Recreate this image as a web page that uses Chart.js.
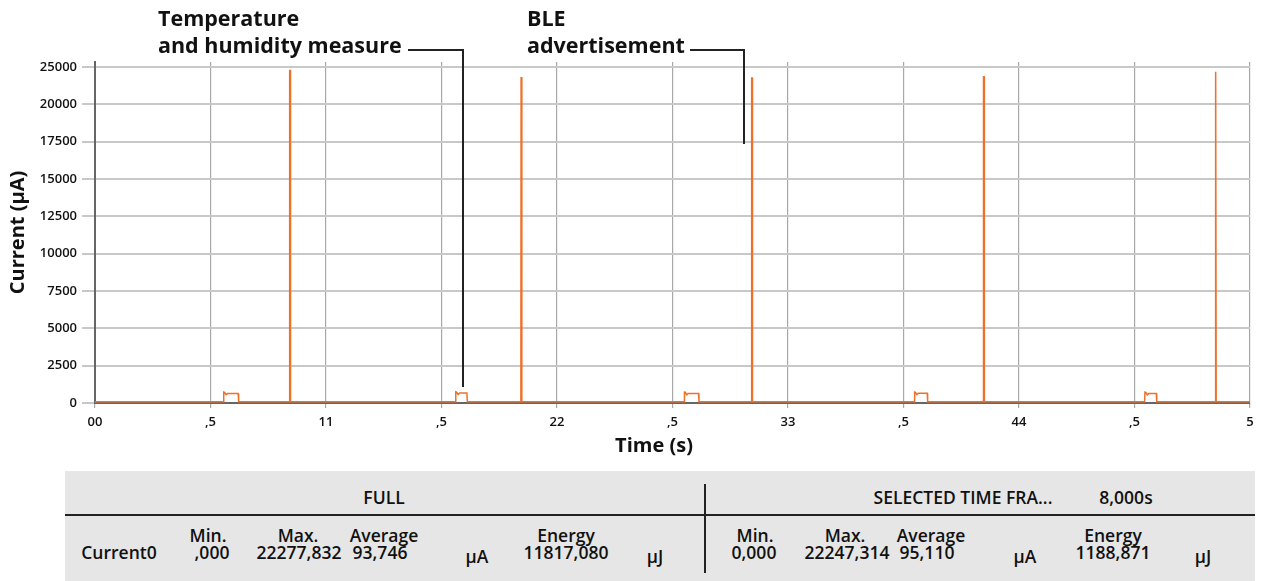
<!DOCTYPE html>
<html>
<head>
<meta charset="utf-8">
<script src="https://cdn.jsdelivr.net/npm/chart.js@4.4.1/dist/chart.umd.min.js"></script>
<style>
  body { margin: 0; background: #fff; font-family: "Open Sans", sans-serif; }
  #wrap { position: absolute; left: 0; top: 0; width: 1262px; height: 465px; }
  .t { position: absolute; white-space: nowrap; transform: translate(-50%, -50%); font-weight: 600; color: #111; }
  .note { position: absolute; white-space: nowrap; font-size: 21.5px; font-weight: 700; color: #111; line-height: 27px; }
  .ln { position: absolute; background: #222; }
  #table { position: absolute; left: 65px; top: 471px; width: 1190px; height: 110px; background: #e6e6e6; }
  .cell { font-size: 17.5px; }
</style>
</head>
<body>
<div id="wrap"><canvas id="myChart"></canvas></div>

<div class="note" style="left:158px; top:4px;">Temperature<br>and humidity measure</div>
<div class="ln" style="left:408px; top:49px; width:56px; height:1.5px;"></div>
<div class="ln" style="left:462px; top:49px; width:1.5px; height:338px;"></div>
<div class="note" style="left:527px; top:4px;">BLE<br>advertisement</div>
<div class="ln" style="left:690px; top:49px; width:55px; height:1.5px;"></div>
<div class="ln" style="left:743px; top:49px; width:1.5px; height:95px;"></div>

<div id="table"></div>
<div class="ln" style="left:65px; top:514px; width:1190px; height:2px;"></div>
<div class="ln" style="left:704px; top:484px; width:2px; height:89px;"></div>
<div id="cells"></div>

<script>
// trace: time (s) and current (uA)
var times = [
  0,
  6.11, 6.13, 6.17, 6.24, 6.31, 6.82, 6.84,
  9.26, 9.27, 9.30, 9.31,
  17.16, 17.18, 17.22, 17.29, 17.36, 17.71, 17.73,
  20.28, 20.29, 20.32, 20.33,
  28.05, 28.07, 28.11, 28.18, 28.25, 28.74, 28.76,
  31.26, 31.27, 31.30, 31.31,
  39.01, 39.03, 39.07, 39.14, 39.21, 39.63, 39.65,
  42.30, 42.31, 42.34, 42.35,
  49.98, 50.00, 50.04, 50.11, 50.18, 50.54, 50.56,
  53.34, 53.35, 53.38, 53.39,
  55
];
var current = [
  88,
  88, 740, 720, 560, 630, 630, 88,
  88, 22270, 22270, 88,
  88, 750, 730, 570, 670, 670, 88,
  88, 21830, 21830, 88,
  88, 730, 720, 550, 640, 640, 88,
  88, 21770, 21770, 88,
  88, 740, 720, 560, 650, 650, 88,
  88, 21850, 21850, 88,
  88, 730, 710, 550, 630, 630, 88,
  88, 22180, 22180, 88,
  88
];
var xTickValues = [0, 5.5, 11, 16.5, 22, 27.5, 33, 38.5, 44, 49.5, 55];
var xTickLabels = ['00', ',5', '11', ',5', '22', ',5', '33', ',5', '44', ',5', '5'];
var yTickValues = [0, 2500, 5000, 7500, 10000, 12500, 15000, 17500, 20000, 22500];
var yTickLabels = ['0', '2500', '5000', '7500', '10000', '12500', '15000', '17500', '20000', '25000'];

var points = times.map(function (t, i) { return { x: t, y: current[i] }; });

var tickFont = { family: 'Open Sans', size: 13, weight: '600' };

var xTitle = {
  id: 'xTitle',
  afterDraw: function (chart) {
    var c = chart.ctx;
    c.save();
    c.font = '700 20px "Open Sans"';
    c.fillStyle = '#111';
    c.textAlign = 'center';
    c.textBaseline = 'middle';
    c.fillText('Time (s)', 654, 446);
    c.restore();
  }
};

var ctx = document.getElementById('myChart');
var myChart = new Chart(ctx, {
  type: 'line',
  data: {
    datasets: [{
      label: 'Current0',
      data: points,
      borderColor: 'rgb(240, 112, 40)',
      borderWidth: 1.5,
      pointRadius: 0,
      tension: 0,
      fill: false
    }]
  },
  options: {
    responsive: true,
    maintainAspectRatio: false,
    animation: false,
    layout: { padding: { top: 62, right: 12, left: 0, bottom: 0 } },
    plugins: { legend: { display: false }, tooltip: { enabled: false } },
    scales: {
      x: {
        type: 'linear',
        min: 0,
        max: 55,
        afterBuildTicks: function (s) { s.ticks = xTickValues.map(function (v) { return { value: v }; }); },
        ticks: {
          autoSkip: false,
          maxRotation: 0,
          color: '#111',
          font: tickFont,
          padding: 6,
          callback: function (v, i) { return xTickLabels[i]; }
        },
        grid: { color: '#a8a8a8', lineWidth: 1.2, tickLength: 5 },
        border: { color: '#666', width: 2 },
        afterFit: function (s) { s.height = 62; s.paddingLeft = 0; s.paddingRight = 0; }
      },
      y: {
        min: 0,
        max: 22840,
        afterBuildTicks: function (s) { s.ticks = yTickValues.map(function (v) { return { value: v }; }); },
        ticks: {
          autoSkip: false,
          color: '#111',
          font: tickFont,
          padding: 5,
          callback: function (v, i) { return yTickLabels[i]; }
        },
        grid: { color: '#c8c8c8', lineWidth: 2, tickLength: 13 },
        border: { color: '#666', width: 2 },
        title: {
          display: true,
          text: 'Current (µA)',
          color: '#111',
          font: { family: 'Open Sans', size: 20, weight: '700' },
          padding: { top: 6, bottom: 0 }
        },
        afterFit: function (s) { s.width = 95; s.paddingTop = 0; s.paddingBottom = 0; }
      }
    }
  },
  plugins: [xTitle]
});

// statistics table under the chart
var cells = [
  ['FULL', 384, 497], ['SELECTED TIME FRA...', 963, 497], ['8,000s', 1126, 497],
  ['Current0', 119, 552],
  ['Min.', 208, 535], [',000', 212, 552],
  ['Max.', 298, 535], ['22277,832', 299, 552],
  ['Average', 384, 535], ['93,746', 380, 552],
  ['µA', 477, 556],
  ['Energy', 566, 535], ['11817,080', 566, 552],
  ['µJ', 655, 556],
  ['Min.', 755, 535], ['0,000', 754, 552],
  ['Max.', 845, 535], ['22247,314', 847, 552],
  ['Average', 931, 535], ['95,110', 927, 552],
  ['µA', 1025, 556],
  ['Energy', 1113, 535], ['1188,871', 1113, 552],
  ['µJ', 1203, 556]
];
var box = document.getElementById('cells');
cells.forEach(function (c) {
  var d = document.createElement('div');
  d.className = 't cell';
  d.textContent = c[0];
  d.style.left = c[1] + 'px';
  d.style.top = c[2] + 'px';
  box.appendChild(d);
});
</script>
</body>
</html>
